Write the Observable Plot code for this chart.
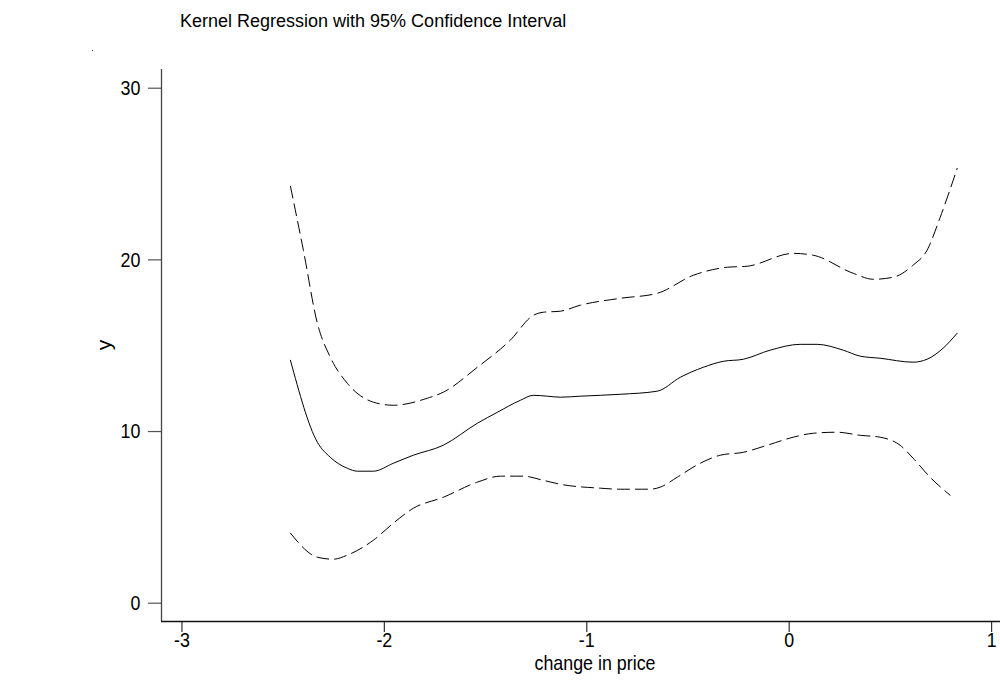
<!DOCTYPE html>
<html>
<head>
<meta charset="utf-8">
<script src="https://cdn.jsdelivr.net/npm/d3@7"></script>
<script src="https://cdn.jsdelivr.net/npm/@observablehq/plot@0.6"></script>
<style>
  body { margin: 0; background: #fff; }
  #wrap { position: relative; width: 1000px; height: 683px; font-family: Arial, "Liberation Sans", sans-serif; }
  #title { position: absolute; left: 180px; top: 11px; font-size: 18px; color: #000; white-space: nowrap; }
  #xlab { position: absolute; left: 595px; top: 652px; line-height: 1; transform: translateX(-50%) scaleX(0.85); font-size: 21px; color: #000; white-space: nowrap; }
  #ylab { position: absolute; left: 103px; top: 345px; line-height: 1; transform: translate(-50%, -50%) rotate(-90deg); font-size: 21px; color: #000; }
  #dot { position: absolute; left: 92px; top: 50px; width: 1px; height: 1px; background: #555; }
  svg { display: block; }
</style>
</head>
<body>
<div id="wrap">
  <div id="title">Kernel Regression with 95% Confidence Interval</div>
  <div id="dot"></div>
  <div id="ylab">y</div>
  <div id="xlab">change in price</div>
</div>
<script>
// Fitted kernel regression (solid)
const midX = [-2.464,-2.331,-2.267,-2.183,-2.133,-2.054,-1.956,-1.857,-1.709,-1.541,-1.442,-1.328,-1.264,-1.195,-1.131,-1.032,-0.835,-0.652,-0.538,-0.425,-0.326,-0.227,-0.094,0.054,0.138,0.267,0.351,0.449,0.612,0.681,0.760,0.830];
const midY = [14.15,9.38,8.50,7.86,7.69,7.69,8.15,8.62,9.20,10.48,11.12,11.82,12.11,12.06,12.00,12.06,12.17,12.35,13.16,13.74,14.09,14.21,14.74,15.08,15.08,14.74,14.39,14.27,14.04,14.21,14.85,15.73];
// Upper 95% bound (dashed)
const upX = [-2.464,-2.400,-2.331,-2.267,-2.183,-2.054,-1.956,-1.788,-1.709,-1.541,-1.378,-1.264,-1.215,-1.131,-1.032,-0.835,-0.652,-0.474,-0.306,-0.207,0.020,0.119,0.316,0.415,0.514,0.612,0.681,0.746,0.830];
const upY = [24.29,20.56,16.31,14.33,12.81,11.71,11.53,11.94,12.29,13.74,15.32,16.77,16.95,17.01,17.36,17.76,18.05,19.10,19.57,19.63,20.38,20.27,19.22,18.87,18.99,19.69,20.56,22.48,25.33];
// Lower 95% bound (dashed)
const loX = [-2.464,-2.331,-2.252,-2.183,-2.054,-1.956,-1.857,-1.709,-1.541,-1.427,-1.314,-1.215,-1.131,-0.933,-0.835,-0.686,-0.637,-0.553,-0.440,-0.341,-0.227,-0.109,0.020,0.119,0.237,0.351,0.449,0.548,0.612,0.696,0.795];
const loY = [4.08,2.68,2.56,2.80,3.67,4.66,5.53,6.17,7.05,7.40,7.40,7.16,6.93,6.70,6.64,6.64,6.76,7.34,8.15,8.62,8.79,9.20,9.67,9.90,9.96,9.78,9.67,9.20,8.45,7.34,6.29];

const xTicks = [-3, -2, -1, 0, 1];
const yTicks = [0, 10, 20, 30];
const xDomain = [-3.101, 1.044];
const yDomain = [-1.066, 31.09];

const toRows = (xs, ys) => xs.map((x, i) => ({x, y: ys[i]}));
const mid = toRows(midX, midY);
const up = toRows(upX, upY);
const lo = toRows(loX, loY);
const fmt = d => String(d);

const chart = Plot.plot({
  width: 1000,
  height: 683,
  marginLeft: 161,
  marginRight: 0,
  marginTop: 69,
  marginBottom: 62,
  style: { fontFamily: 'Arial, "Liberation Sans", sans-serif', fontSize: "21px", color: "#000", background: "#fff" },
  x: { domain: xDomain },
  y: { domain: yDomain },
  marks: [
    Plot.axisX({ ticks: xTicks, tickFormat: fmt, tickSize: 11, tickPadding: 0, label: null, stroke: "#333", strokeWidth: 1.2, fill: "#000", fontSize: 21 }),
    Plot.axisY({ ticks: yTicks, tickFormat: fmt, tickSize: 13, tickPadding: 8, label: null, stroke: "#555", strokeWidth: 1.2, fill: "#000", fontSize: 21 }),
    Plot.ruleX([xDomain[0]], { stroke: "#444", strokeWidth: 1.3 }),
    Plot.ruleY([yDomain[0]], { stroke: "#111", strokeWidth: 1.3 }),
    Plot.line(up, { x: "x", y: "y", stroke: "#000", strokeWidth: 1, strokeDasharray: "12,6", curve: "monotone-x" }),
    Plot.line(lo, { x: "x", y: "y", stroke: "#000", strokeWidth: 1, strokeDasharray: "12,6", curve: "monotone-x" }),
    Plot.line(mid, { x: "x", y: "y", stroke: "#000", strokeWidth: 1, curve: "monotone-x" })
  ]
});
document.getElementById("wrap").prepend(chart);
// narrow the tick labels slightly to match the condensed look of the original
chart.querySelectorAll("g[aria-label$='tick label'] text").forEach(t => {
  const w = t.getComputedTextLength();
  if (w > 0) {
    t.setAttribute("textLength", (w * 0.85).toFixed(1));
    t.setAttribute("lengthAdjust", "spacingAndGlyphs");
  }
});
</script>
</body>
</html>
